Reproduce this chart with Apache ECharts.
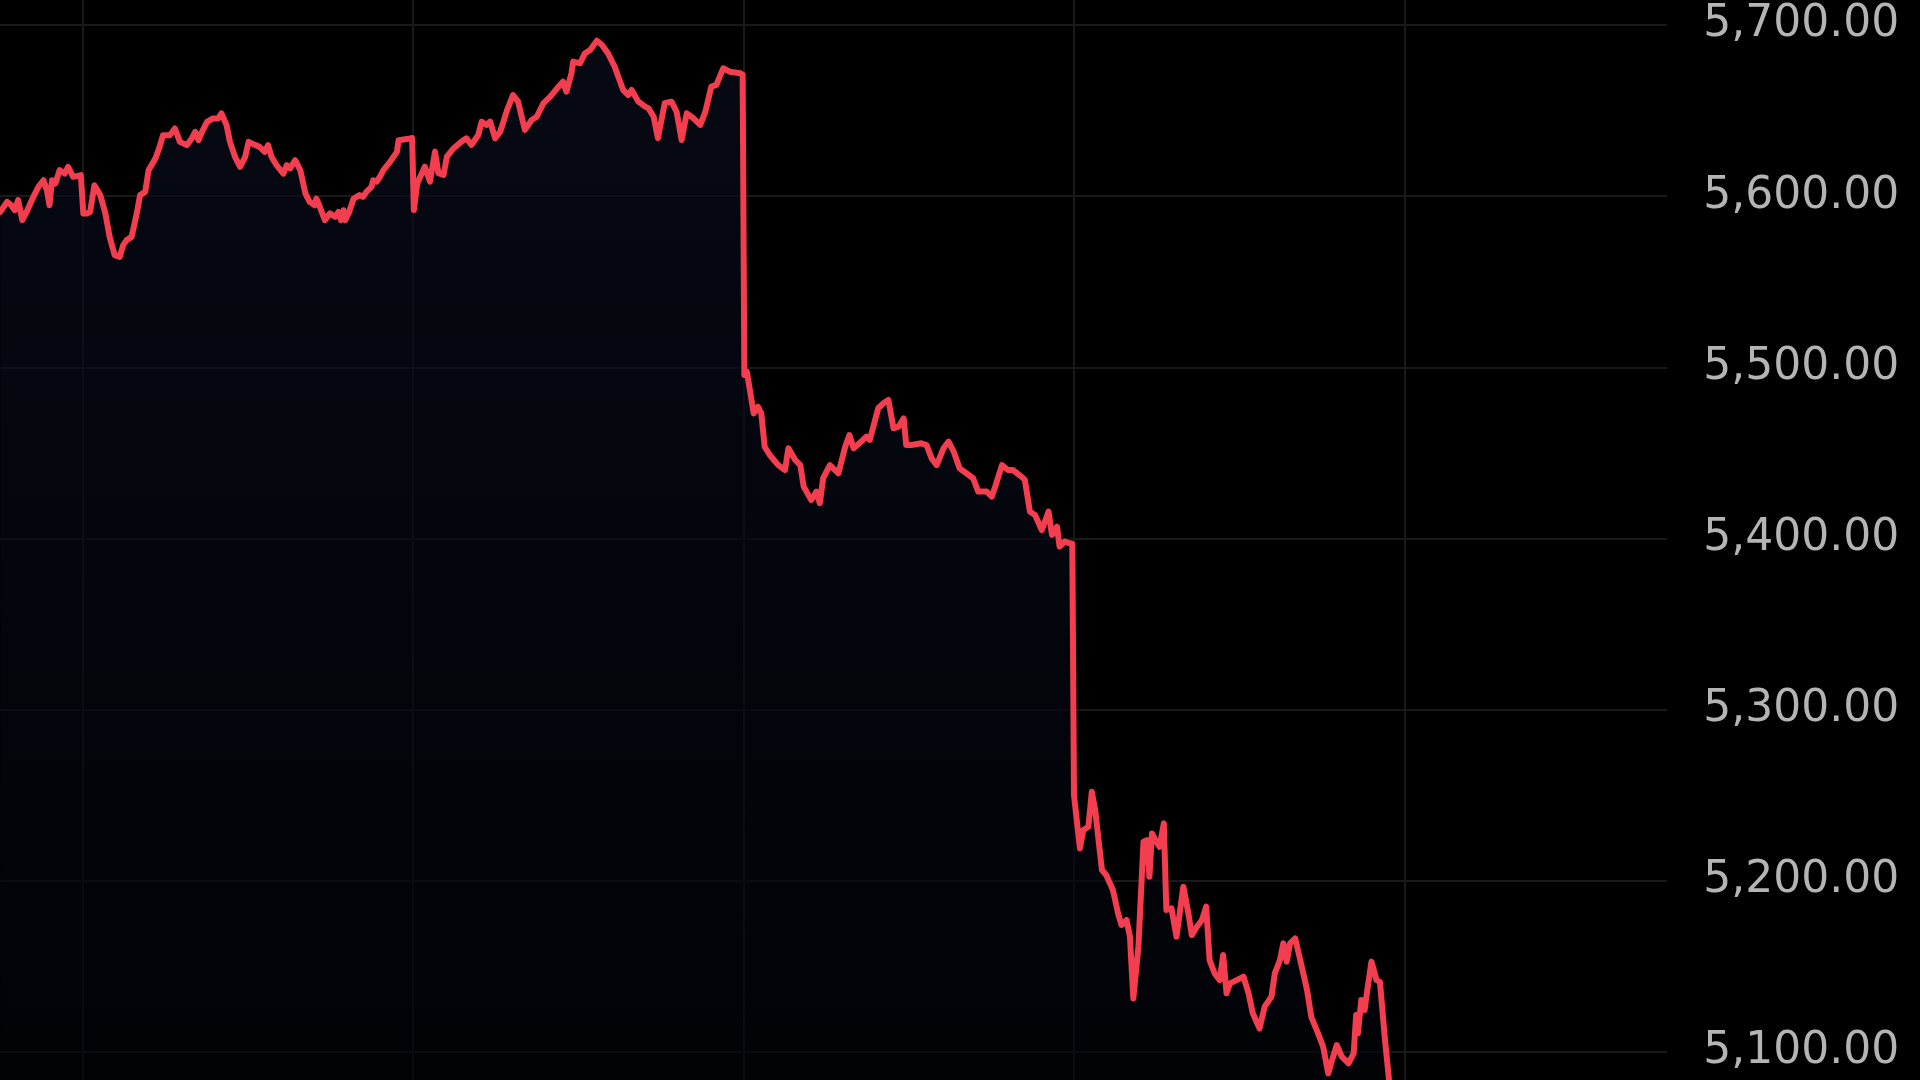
<!DOCTYPE html>
<html>
<head>
<meta charset="utf-8">
<style>
  html, body { margin: 0; padding: 0; background: #000; }
  #chart { width: 1920px; height: 1080px; }
</style>
<script src="https://cdn.jsdelivr.net/npm/echarts@6/dist/echarts.min.js"></script>
</head>
<body>
<div id="chart"></div>
<script>
// Trading minutes counted from the open of the first session (390 minutes per session)
const sessionLength = 390;
const axisEndMinute = 2260;
const priceMin = 5000, priceMax = 5800, priceStep = 100;

const minutesDay1 = [293,301,306,310,314,319,324,332,338,344,348,351,354,358,363,369,373,379,388];
const pricesDay1  = [5590.8,5596.7,5594.7,5591.8,5597.7,5586,5590.8,5599.6,5605.4,5609.3,5603.5,5594.7,5609.3,5607.4,5615.2,5613.2,5617.1,5611.3,5612.3];

const minutesDay2 = [391,395,399,404,411,417,422,428,434,438,442,448,454,458,464,468,476,481,485,493,499,505,513,519,523,527,531,537,544,550,554,560,564,570,576,582,586,594,599,605,609,613,619,627,631,635,641,647,653,658,664,666,670,676,682,688,692,695,698,700,704,710,717,721,725,731,733,737,741,745,753,761,763,775,779];
const pricesDay2  = [5589.9,5589.9,5590.8,5606.4,5600.6,5589.9,5576.2,5565.5,5564.5,5571.4,5574.3,5576.2,5589.9,5600.6,5602.5,5615.2,5622,5628.8,5635.6,5635.6,5639.5,5631.7,5629.8,5633.7,5637.6,5632.7,5637.6,5643.4,5645.4,5645.4,5648.3,5641.5,5631.7,5623,5617.1,5623,5631.7,5629.8,5628.8,5625.9,5629.8,5623,5618.1,5613.2,5618.1,5616.2,5621,5615.2,5601.6,5596.7,5594.7,5598.6,5593.8,5586,5589.9,5587.9,5590.8,5586,5591.8,5586,5589.9,5598.6,5600.6,5599.6,5602.5,5605.4,5609.3,5608.4,5611.3,5615.2,5620,5625.9,5632.7,5633.5,5634];

const minutesDay3 = [781,785,794,800,806,810,816,820,828,837,843,849,857,861,867,871,877,883,891,898,904,912,920,926,934,942,950,957,961,967,969,977,983,989,997,1003,1010,1018,1028,1034,1038,1046,1054,1058,1064,1069,1077,1085,1091,1097,1103,1111,1119,1125,1132,1138,1146,1154,1166,1169];
const pricesDay3  = [5591.9,5607.5,5617.2,5608.5,5626,5613.4,5612.4,5623.1,5628,5631.8,5633.8,5629.9,5635.7,5643.5,5641.6,5643.5,5633.8,5637.7,5650.3,5659.1,5655.2,5638.7,5644.5,5646.4,5654.3,5658.1,5663,5666.9,5661,5671.8,5678.6,5677.6,5683.5,5685.4,5690.8,5688.3,5683.5,5675.6,5662,5659.1,5662,5655.2,5652.3,5651.3,5646.4,5633.8,5654.3,5655.2,5649.4,5632.8,5648.4,5645.5,5641.6,5649.4,5664,5665,5674.7,5672.7,5671.8,5671];

const minutesDay4 = [1171,1174,1182,1187,1191,1195,1201,1211,1219,1223,1231,1237,1241,1250,1256,1260,1264,1272,1282,1290,1295,1300,1309,1315,1319,1329,1335,1341,1347,1353,1359,1362,1368,1380,1386,1392,1398,1406,1412,1418,1425,1433,1441,1447,1457,1463,1467,1475,1482,1488,1498,1502,1508,1514,1522,1530,1534,1540,1543,1549,1555,1558];
const pricesDay4  = [5495.5,5497.4,5473.1,5477,5473.1,5453.6,5448.8,5442.9,5440,5452.7,5445.9,5442.9,5430.3,5422.5,5427.4,5420.6,5435.2,5442.9,5438.1,5453.6,5460.4,5452.7,5456.6,5459.5,5457.6,5476.1,5479,5480.9,5464.4,5465.3,5470.2,5454.6,5454.6,5455.6,5454.6,5446.8,5442.9,5452.7,5456.6,5450.8,5441,5438.1,5435.2,5427.4,5427.4,5424.5,5430.3,5442.9,5440,5440,5436.1,5434.2,5415.7,5413.7,5405,5415.7,5402.1,5406.9,5395.3,5398.2,5397.2,5397];

const minutesDay5 = [1560,1567,1571,1577,1581,1585,1589,1593,1598,1606,1612,1616,1622,1626,1630,1636,1642,1646,1649,1652,1657,1661,1666,1669,1675,1681,1689,1695,1699,1705,1711,1716,1720,1726,1732,1736,1740,1744,1752,1760,1766,1771,1779,1785,1793,1797,1803,1807,1811,1815,1821,1827,1835,1840,1848,1854,1860,1864,1870,1876,1884,1890,1893,1895,1899,1903,1905,1911,1917,1921,1927,1931,1934];
const pricesDay5  = [5250,5219,5229.7,5231.6,5252.1,5241.4,5223.8,5206.3,5203.4,5194.6,5181,5174.2,5177.1,5167.4,5131.3,5161.5,5222.9,5223.8,5202.4,5227.7,5222.9,5219.9,5233.6,5183,5183.9,5167.4,5196.6,5181,5168.3,5173.2,5177.1,5184.9,5153.7,5145.9,5142,5156.7,5134.3,5140.1,5142,5144,5134.3,5122.6,5113.8,5126.5,5132.3,5146,5153.7,5163.5,5152.8,5163.5,5166.4,5153.7,5136.2,5120.6,5110.9,5103.1,5087.5,5094.3,5104.1,5097.3,5093.4,5099.2,5121.6,5110.9,5130.4,5124.5,5132.3,5152.8,5142,5141,5107,5087.5,5070];

const allMinutes = [].concat(minutesDay1, minutesDay2, minutesDay3, minutesDay4, minutesDay5);
const allPrices  = [].concat(pricesDay1, pricesDay2, pricesDay3, pricesDay4, pricesDay5);
const seriesData = allMinutes.map((m, i) => [m, allPrices[i]]);

const chart = echarts.init(document.getElementById('chart'), null, { renderer: 'canvas' });
const gridColor = '#19191c';

chart.setOption({
  backgroundColor: '#000000',
  animation: false,
  grid: {
    left: -248,
    width: 1915.2,
    top: -146.2,
    height: 1369.4,
    containLabel: false,
    outerBoundsMode: 'none'
  },
  xAxis: {
    type: 'value',
    min: 0,
    max: axisEndMinute,
    interval: sessionLength,
    axisLine: { show: false },
    axisTick: { show: false },
    axisLabel: { show: false },
    splitLine: {
      show: true,
      showMinLine: false,
      showMaxLine: false,
      lineStyle: { color: gridColor, width: 2 }
    }
  },
  yAxis: {
    type: 'value',
    position: 'right',
    min: priceMin,
    max: priceMax,
    interval: priceStep,
    axisLine: { show: false },
    axisTick: { show: false },
    splitLine: {
      show: true,
      showMinLine: false,
      showMaxLine: false,
      lineStyle: { color: gridColor, width: 2 }
    },
    axisLabel: {
      show: true,
      margin: 36,
      align: 'left',
      verticalAlign: 'middle',
      padding: [0, 0, 9, 0],
      color: '#b4b4b4',
      fontFamily: 'DejaVu Sans',
      fontSize: 44,
      formatter: v => v.toLocaleString('en-US', { minimumFractionDigits: 2, maximumFractionDigits: 2 })
    }
  },
  series: [{
    type: 'line',
    data: seriesData,
    showSymbol: false,
    smooth: false,
    lineStyle: { color: '#f23e4e', width: 6, join: 'round', cap: 'round' },
    areaStyle: {
      color: new echarts.graphic.LinearGradient(0, 0, 0, 1, [
        { offset: 0, color: '#090c1b' },
        { offset: 1, color: '#020308' }
      ])
    }
  }]
});
</script>
</body>
</html>
